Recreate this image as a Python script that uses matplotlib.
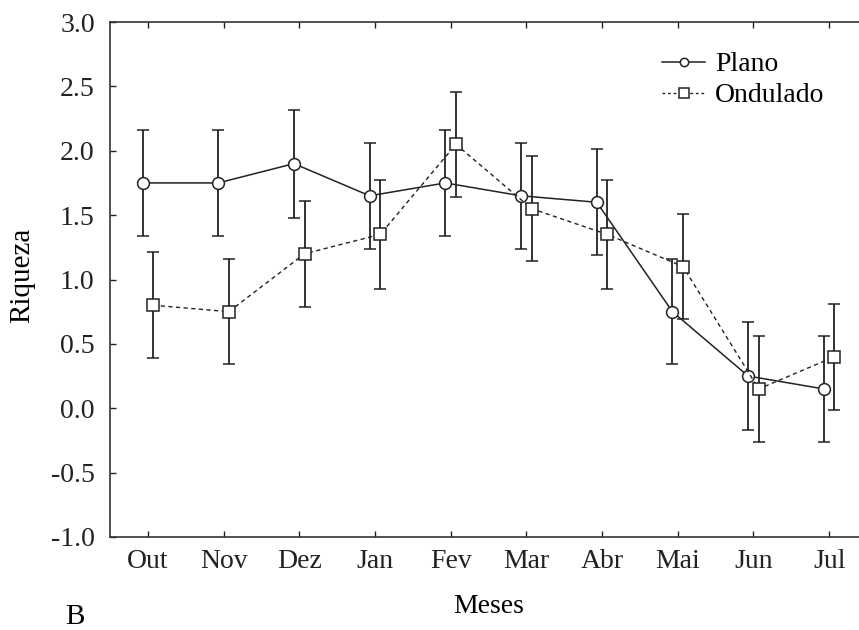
import matplotlib
matplotlib.use("Agg")
import matplotlib.pyplot as plt
from matplotlib.lines import Line2D
import numpy as np

months = ["Out", "Nov", "Dez", "Jan", "Fev", "Mar", "Abr", "Mai", "Jun", "Jul"]
plano = [1.75, 1.75, 1.90, 1.65, 1.75, 1.65, 1.60, 0.75, 0.25, 0.15]
plano_err = [0.41, 0.41, 0.42, 0.41, 0.41, 0.41, 0.41, 0.41, 0.42, 0.41]
ondulado = [0.80, 0.75, 1.20, 1.35, 2.05, 1.55, 1.35, 1.10, 0.15, 0.40]
ondulado_err = [0.41, 0.41, 0.41, 0.42, 0.41, 0.41, 0.42, 0.41, 0.41, 0.41]
yticks = [-1.0, -0.5, 0.0, 0.5, 1.0, 1.5, 2.0, 2.5, 3.0]

plt.rcParams['font.family'] = ['Liberation Serif', 'DejaVu Serif']

W, H = 859, 630
fig = plt.figure(figsize=(W / 100, H / 100), dpi=100)
left, right, top, bottom = 110, 867, 22, 537
ax = fig.add_axes([left / W, 1 - bottom / H, (right - left) / W, (bottom - top) / H])

x = np.arange(len(months))
off = 0.07
col = '#222222'
ax.errorbar(x - off, plano, yerr=plano_err, color=col, lw=1.1, ls='-',
            marker='o', ms=8.5, mfc='white', mec=col, mew=1.1,
            ecolor=col, elinewidth=1.3, capsize=4, capthick=1.3, zorder=3)
ax.errorbar(x + off, ondulado, yerr=ondulado_err, color=col, lw=1.0, ls=(0, (3, 2.5)),
            marker='s', ms=9, mfc='white', mec=col, mew=1.1,
            ecolor=col, elinewidth=1.3, capsize=4, capthick=1.3, zorder=3)

ax.set_xlim(-0.5, 9.5)
ax.set_ylim(-1.0, 3.0)
ax.set_xticks(x)
ax.set_xticklabels(months)
ax.set_yticks(yticks)
ax.set_yticklabels([f"{v:.1f}" for v in yticks])
ax.tick_params(axis='both', direction='in', length=4, width=1, labelsize=20, colors='#222222')
ax.tick_params(axis='x', top=True, pad=9)
ax.tick_params(axis='y', pad=11)
for s in ax.spines.values():
    s.set_linewidth(1.2)
    s.set_color('#333333')

ax.set_ylabel("Riqueza", fontsize=21)
ax.yaxis.set_label_coords(-(110 - 35) / (right - left), (537 - 275) / (bottom - top))
ax.set_xlabel("Meses", fontsize=20, labelpad=14)

handles = [
    Line2D([], [], color=col, lw=1.1, ls='-', marker='o', ms=6, mfc='white', mec=col, mew=1.1),
    Line2D([], [], color=col, lw=1.0, ls=(0, (2, 2)), marker='s', ms=6.5, mfc='white', mec=col, mew=1.1),
]
leg = ax.legend(handles, ["Plano", "Ondulado"], loc='upper left',
                bbox_to_anchor=((662 - left) / (right - left), 1 - (52 - top) / (bottom - top)),
                frameon=False, fontsize=20, handlelength=1.55, handletextpad=0.35,
                labelspacing=0.2, borderpad=0, borderaxespad=0)

fig.text(75 / W, 1 - 617 / H, "B", fontsize=21, ha='center', va='center')

fig.savefig("out.png", dpi=100)
